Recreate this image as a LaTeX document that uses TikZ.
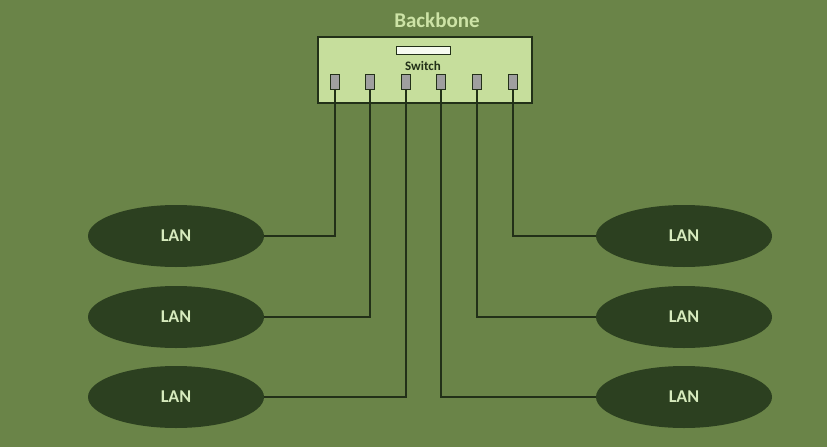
\documentclass[tikz,border=0pt]{standalone}
\usepackage{fontspec}
\setmainfont{Carlito}
\usepackage{tikz}
\usetikzlibrary{positioning,shapes.geometric}

\definecolor{bgreen}{HTML}{6A8448}
\definecolor{swfill}{HTML}{C6DE9C}
\definecolor{dark}{HTML}{223018}
\definecolor{lanfill}{HTML}{2C4020}
\definecolor{lantext}{HTML}{D6EABD}
\definecolor{titletext}{HTML}{CDE3A6}

\begin{document}
\begin{tikzpicture}[x=1pt,y=-1pt,
lan/.style={ellipse,fill=lanfill,draw=none,minimum width=176pt,minimum height=62pt,
  text=lantext,font=\fontsize{18}{20}\selectfont\bfseries},
port/.style={draw=dark,line width=1.2pt,fill=gray!75,minimum width=9pt,minimum height=15pt,inner sep=0pt},
wire/.style={draw=dark,line width=2.3pt}]
\fill[bgreen] (0,0) rectangle (827,447);
\useasboundingbox (0,0) rectangle (827,447);
% switch
\node[draw=dark,line width=1.6pt,fill=swfill,minimum width=214pt,minimum height=66pt,inner sep=0pt] (switch) at (425,70) {};
\node[draw=dark,fill=white!85!swfill,line width=1pt,minimum width=54pt,minimum height=8pt,inner sep=0pt] (slot) at (423,50) {};
\node[text=dark,font=\fontsize{13}{14}\selectfont\bfseries] (swlabel) at (423,65.5) {Switch};
\node[text=titletext,font=\fontsize{21}{24}\selectfont\bfseries] (title) at (437,20) {Backbone};
\foreach \x [count=\i] in {335,370,406,441,477,513}
  \node[port] (p\i) at (\x,82) {};
% LANs
\node[lan] (lanL1) at (176,236) {LAN};
\node[lan] (lanL2) at (176,317) {LAN};
\node[lan] (lanL3) at (176,397) {LAN};
\node[lan] (lanR1) at (684,236) {LAN};
\node[lan] (lanR2) at (684,317) {LAN};
\node[lan] (lanR3) at (684,397) {LAN};
% cables
\draw[wire] (lanL1.east) -| (p1.south);
\draw[wire] (lanL2.east) -| (p2.south);
\draw[wire] (lanL3.east) -| (p3.south);
\draw[wire] (lanR3.west) -| (p4.south);
\draw[wire] (lanR2.west) -| (p5.south);
\draw[wire] (lanR1.west) -| (p6.south);
\end{tikzpicture}
\end{document}
